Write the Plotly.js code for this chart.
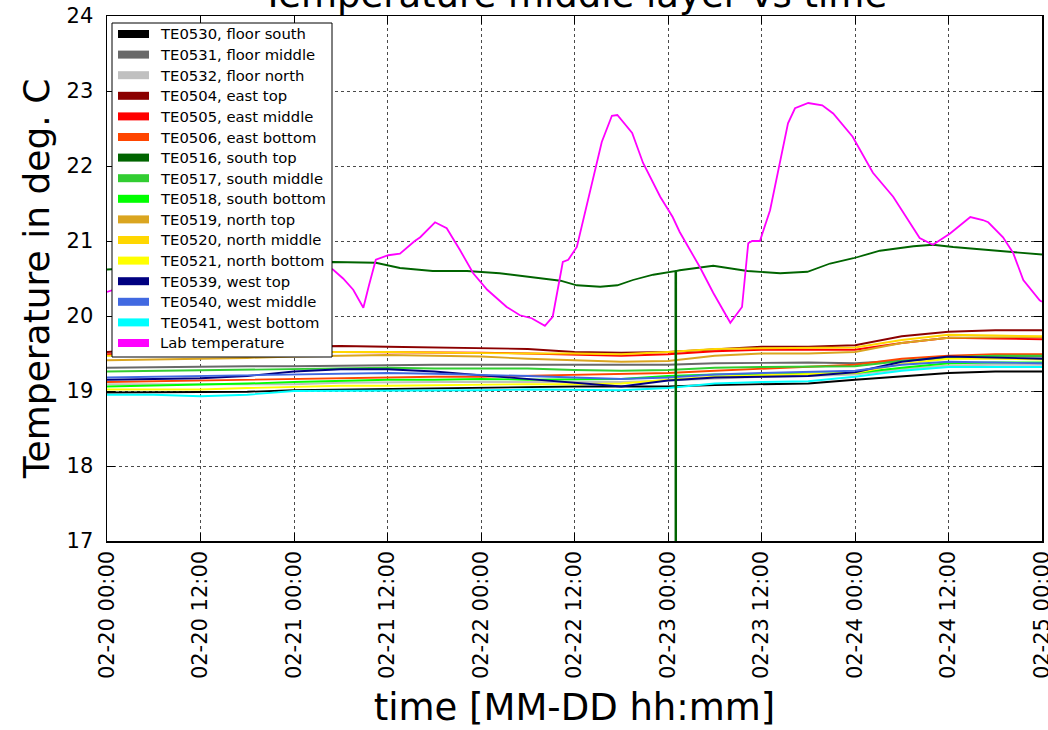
<!DOCTYPE html>
<html>
<head>
<meta charset="utf-8">
<script src="https://cdn.plot.ly/plotly-3.0.1.min.js"></script>
<style>
  html, body { margin: 0; padding: 0; background: #ffffff; }
  #chart { width: 1048px; height: 730px; }
</style>
</head>
<body>
<div id="chart"></div>
<script>
// Start of the logging period; all sample times below are hours after it.
const START = '2017-02-20T00:00:00Z';

// Sensor readings on a 6-hourly grid (hours after START).
const sensorHours = [0, 6, 12, 18, 24, 30, 36, 42, 48, 54, 60, 66, 72, 78, 84, 90, 96, 102, 108, 114, 120];

const te0530 = [18.98, 18.98, 18.98, 18.99, 19.01, 19.02, 19.02, 19.03, 19.04, 19.05, 19.06, 19.06, 19.06, 19.08, 19.09, 19.10, 19.15, 19.19, 19.24, 19.26, 19.26];
const te0531 = [19.31, 19.32, 19.32, 19.33, 19.33, 19.34, 19.35, 19.35, 19.35, 19.35, 19.35, 19.35, 19.35, 19.37, 19.38, 19.38, 19.37, 19.41, 19.44, 19.46, 19.46];
const te0532 = [19.09, 19.09, 19.10, 19.10, 19.09, 19.11, 19.12, 19.12, 19.12, 19.12, 19.12, 19.12, 19.14, 19.17, 19.19, 19.20, 19.22, 19.29, 19.34, 19.35, 19.35];
const te0504 = [19.52, 19.56, 19.58, 19.59, 19.60, 19.60, 19.59, 19.58, 19.57, 19.56, 19.52, 19.51, 19.52, 19.56, 19.59, 19.59, 19.61, 19.73, 19.79, 19.81, 19.81];
const te0505 = [19.49, 19.50, 19.51, 19.52, 19.52, 19.52, 19.52, 19.51, 19.51, 19.50, 19.49, 19.47, 19.49, 19.53, 19.55, 19.55, 19.55, 19.64, 19.71, 19.70, 19.69];
const te0506 = [19.12, 19.13, 19.15, 19.16, 19.17, 19.18, 19.18, 19.19, 19.19, 19.20, 19.21, 19.22, 19.24, 19.27, 19.30, 19.32, 19.35, 19.43, 19.47, 19.49, 19.49];
const te0517 = [19.26, 19.27, 19.27, 19.28, 19.30, 19.30, 19.31, 19.30, 19.30, 19.30, 19.28, 19.27, 19.28, 19.31, 19.32, 19.32, 19.33, 19.40, 19.45, 19.47, 19.47];
const te0518 = [19.06, 19.07, 19.08, 19.10, 19.12, 19.14, 19.15, 19.15, 19.16, 19.15, 19.15, 19.16, 19.20, 19.22, 19.22, 19.23, 19.24, 19.31, 19.37, 19.38, 19.38];
const te0519 = [19.41, 19.42, 19.42, 19.44, 19.46, 19.47, 19.48, 19.47, 19.46, 19.43, 19.41, 19.39, 19.40, 19.47, 19.50, 19.50, 19.52, 19.64, 19.71, 19.72, 19.72];
const te0520 = [19.47, 19.49, 19.50, 19.51, 19.52, 19.52, 19.52, 19.51, 19.50, 19.50, 19.50, 19.49, 19.52, 19.56, 19.57, 19.57, 19.58, 19.68, 19.75, 19.74, 19.73];
const te0521 = [19.02, 19.02, 19.02, 19.04, 19.06, 19.07, 19.07, 19.08, 19.09, 19.09, 19.09, 19.10, 19.15, 19.19, 19.21, 19.22, 19.24, 19.36, 19.43, 19.43, 19.42];
const te0539 = [19.15, 19.16, 19.17, 19.20, 19.26, 19.29, 19.29, 19.26, 19.21, 19.16, 19.12, 19.06, 19.14, 19.18, 19.19, 19.20, 19.25, 19.39, 19.46, 19.45, 19.43];
const te0540 = [19.18, 19.19, 19.19, 19.20, 19.21, 19.23, 19.24, 19.23, 19.22, 19.20, 19.18, 19.16, 19.18, 19.22, 19.24, 19.25, 19.27, 19.35, 19.39, 19.38, 19.37];
const te0541 = [18.95, 18.95, 18.93, 18.95, 19.00, 19.00, 19.00, 19.00, 19.01, 19.02, 19.02, 19.01, 19.04, 19.10, 19.12, 19.13, 19.19, 19.27, 19.32, 19.32, 19.32];

// TE0516 (south top) has its own sample times; it includes one dropout reading.
const te0516Hours = [0, 6, 12, 18, 24, 29.0, 34.5, 37.6, 41.8, 46.2, 50.4, 54.6, 58.2, 60.3, 63.3, 65.5, 67.5, 70.1, 72.7, 72.95, 73.0, 73.05, 73.5, 77.8, 82.2, 86.4, 89.9, 92.8, 95.8, 99.2, 103.5, 106.0, 108.6, 112.0, 115.5, 120];
const te0516 = [20.62, 20.66, 20.69, 20.71, 20.72, 20.72, 20.71, 20.64, 20.60, 20.60, 20.57, 20.52, 20.47, 20.41, 20.39, 20.41, 20.48, 20.55, 20.59, 20.60, 0.0, 20.60, 20.61, 20.67, 20.60, 20.57, 20.59, 20.70, 20.77, 20.87, 20.93, 20.95, 20.92, 20.89, 20.85, 20.82];

// Lab air temperature.
const labHours = [0, 3, 6, 9, 12, 15, 18, 21, 24, 27, 29.0, 30.3, 31.6, 32.9, 33.6, 34.5, 36.1, 37.6, 39.5, 40.2, 42.1, 43.6, 45.3, 47.0, 48.8, 51.3, 53.0, 54.5, 56.2, 57.2, 58.5, 59.2, 60.3, 62.0, 63.5, 64.8, 65.5, 67.4, 68.8, 71.0, 72.6, 73.5, 76.1, 77.8, 80.0, 81.5, 82.3, 82.8, 83.8, 85.1, 86.4, 87.4, 88.3, 90.0, 91.8, 93.2, 95.7, 98.3, 100.9, 104.3, 106.0, 108.2, 110.8, 112.4, 113.1, 115.0, 116.3, 117.6, 119.7, 120];
const labTemp = [20.32, 20.42, 20.55, 20.68, 20.78, 20.85, 20.88, 20.86, 20.80, 20.70, 20.62, 20.50, 20.35, 20.11, 20.40, 20.75, 20.81, 20.83, 21.00, 21.05, 21.25, 21.17, 20.88, 20.57, 20.35, 20.12, 20.01, 19.97, 19.87, 19.99, 20.72, 20.75, 20.92, 21.68, 22.32, 22.67, 22.68, 22.44, 22.04, 21.59, 21.32, 21.12, 20.65, 20.31, 19.91, 20.12, 20.97, 21.00, 21.00, 21.41, 22.04, 22.57, 22.77, 22.84, 22.81, 22.70, 22.39, 21.91, 21.59, 21.04, 20.95, 21.10, 21.32, 21.28, 21.25, 21.05, 20.84, 20.48, 20.21, 20.19];

// Legend order, labels and colours.
const seriesNames = [
  'TE0530, floor south', 'TE0531, floor middle', 'TE0532, floor north',
  'TE0504, east top', 'TE0505, east middle', 'TE0506, east bottom',
  'TE0516, south top', 'TE0517, south middle', 'TE0518, south bottom',
  'TE0519, north top', 'TE0520, north middle', 'TE0521, north bottom',
  'TE0539, west top', 'TE0540, west middle', 'TE0541, west bottom',
  'Lab temperature'
];
const seriesColors = [
  '#000000', '#696969', '#c0c0c0',
  '#8b0000', '#ff0000', '#ff4500',
  '#006400', '#32cd32', '#00ff00',
  '#daa520', '#ffd700', '#ffff00',
  '#000080', '#4169e1', '#00ffff',
  '#ff00ff'
];

const baseMs = Date.parse(START);
function stamp(h) {
  return new Date(baseMs + h * 3600000).toISOString().slice(0, 19).replace('T', ' ');
}
const sensorTimes = sensorHours.map(stamp);

const seriesData = [
  [sensorTimes, te0530], [sensorTimes, te0531], [sensorTimes, te0532],
  [sensorTimes, te0504], [sensorTimes, te0505], [sensorTimes, te0506],
  [te0516Hours.map(stamp), te0516], [sensorTimes, te0517], [sensorTimes, te0518],
  [sensorTimes, te0519], [sensorTimes, te0520], [sensorTimes, te0521],
  [sensorTimes, te0539], [sensorTimes, te0540], [sensorTimes, te0541],
  [labHours.map(stamp), labTemp]
];

// Drawing order: sensor cluster first, then south top (with its dropout spike), lab on top.
const drawOrder = [0, 1, 2, 3, 4, 5, 7, 8, 9, 10, 11, 12, 13, 14, 6, 15];

const traces = drawOrder.map(function (i) {
  return {
    type: 'scatter', mode: 'lines', name: seriesNames[i],
    x: seriesData[i][0], y: seriesData[i][1],
    line: { color: seriesColors[i], width: 1.8 },
    hoverinfo: 'skip'
  };
});

// Plot-area geometry in pixels, used to place the boxed legend.
const PLOT = { left: 107, right: 1042, top: 16, bottom: 541 };
const px2x = function (px) { return (px - PLOT.left) / (PLOT.right - PLOT.left); };
const px2y = function (py) { return (PLOT.bottom - py) / (PLOT.bottom - PLOT.top); };

const LEG = { left: 112, right: 332, top: 23, bottom: 357, firstRow: 34, rowStep: 20.6,
              swatchL: 118, swatchR: 149, swatchH: 8, textX: 159 };

const shapes = [{
  type: 'rect', xref: 'paper', yref: 'paper', layer: 'above',
  x0: px2x(LEG.left), x1: px2x(LEG.right), y0: px2y(LEG.bottom), y1: px2y(LEG.top),
  fillcolor: '#ffffff', line: { color: '#000000', width: 1 }
}];
const annotations = [];
seriesNames.forEach(function (name, i) {
  const cy = LEG.firstRow + i * LEG.rowStep;
  shapes.push({
    type: 'rect', xref: 'paper', yref: 'paper', layer: 'above',
    x0: px2x(LEG.swatchL), x1: px2x(LEG.swatchR),
    y0: px2y(cy + LEG.swatchH / 2), y1: px2y(cy - LEG.swatchH / 2),
    fillcolor: seriesColors[i], line: { width: 0 }
  });
  annotations.push({
    xref: 'paper', yref: 'paper', x: px2x(LEG.textX), y: px2y(cy),
    xanchor: 'left', yanchor: 'middle', showarrow: false, borderpad: 0,
    text: name, font: { family: 'DejaVu Sans, Verdana, sans-serif', size: 14.8, color: '#000000' }
  });
});

const FONT = 'DejaVu Sans, Verdana, sans-serif';

const layout = {
  width: 1048, height: 730,
  margin: { l: 107, r: 6, t: 16, b: 189, pad: 0 },
  paper_bgcolor: '#ffffff', plot_bgcolor: '#ffffff',
  font: { family: FONT, color: '#000000' },
  showlegend: false,
  title: {
    text: 'Temperature middle layer vs time',
    font: { family: FONT, size: 37, color: '#000000' },
    xref: 'paper', x: 0.5, xanchor: 'center',
    yref: 'container', y: 1 - 7 / 730, yanchor: 'bottom'
  },
  xaxis: {
    type: 'date',
    range: [stamp(0), stamp(120)],
    tick0: stamp(0), dtick: 43200000,
    tickformat: '%m-%d %H:%M',
    tickangle: -90,
    ticklabeloverflow: 'allow',
    tickfont: { family: FONT, size: 21, color: '#000000' },
    ticks: 'inside', ticklen: 8, tickwidth: 1, tickcolor: '#000000',
    showline: true, linecolor: '#000000', linewidth: 1.5, mirror: 'ticks',
    showgrid: true, gridcolor: '#4a4a4a', gridwidth: 1, griddash: 'dot',
    zeroline: false, automargin: false,
    title: { text: 'time [MM-DD hh:mm]', font: { family: FONT, size: 37, color: '#000000' }, standoff: 16 }
  },
  yaxis: {
    range: [17, 24], dtick: 1, tick0: 17,
    tickfont: { family: FONT, size: 21, color: '#000000' },
    ticks: 'inside', ticklen: 8, tickwidth: 1, tickcolor: '#000000',
    ticklabelstandoff: 8,
    showline: true, linecolor: '#000000', linewidth: 1.5, mirror: 'ticks',
    showgrid: true, gridcolor: '#4a4a4a', gridwidth: 1, griddash: 'dot',
    zeroline: false, automargin: false,
    title: { text: 'Temperature in deg. C', font: { family: FONT, size: 36, color: '#000000' }, standoff: 6 }
  },
  shapes: shapes,
  annotations: annotations
};

Plotly.newPlot('chart', traces, layout, { displayModeBar: false, staticPlot: true });
</script>
</body>
</html>
